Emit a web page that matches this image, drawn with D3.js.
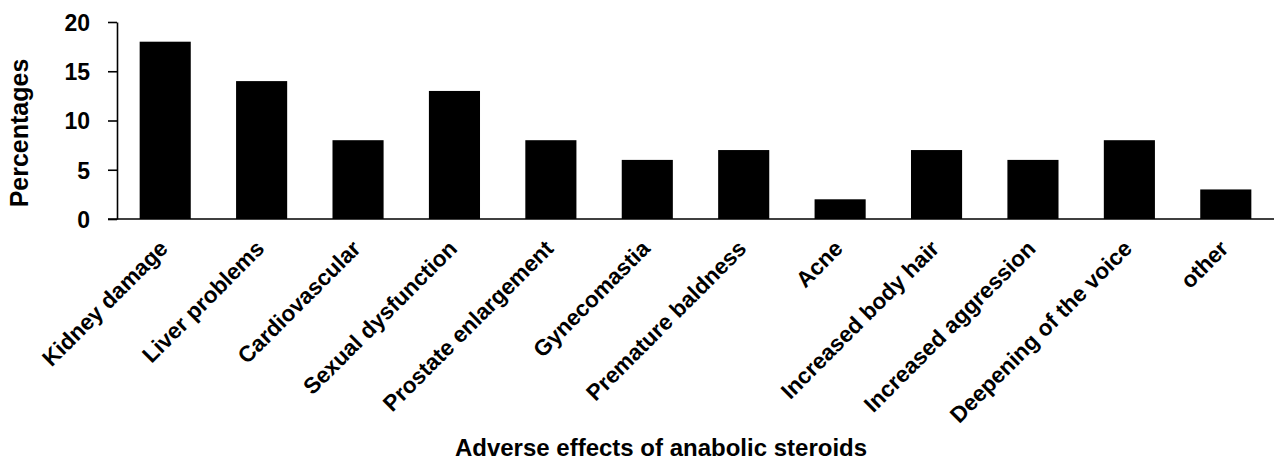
<!DOCTYPE html>
<html>
<head>
<meta charset="utf-8">
<script src="https://cdn.jsdelivr.net/npm/d3@7"></script>
<style>
  html, body { margin: 0; padding: 0; background: #fff; }
  svg { display: block; }
  text { font-family: "Liberation Sans", Arial, Helvetica, sans-serif; font-weight: bold; fill: #000; }
</style>
</head>
<body>
<svg id="chart" width="1277" height="462"></svg>
<script>
const categories = ["Kidney damage", "Liver problems", "Cardiovascular", "Sexual dysfunction",
  "Prostate enlargement", "Gynecomastia", "Premature baldness", "Acne",
  "Increased body hair", "Increased aggression", "Deepening of the voice", "other"];
const percentages = [18, 14, 8, 13, 8, 6, 7, 2, 7, 6, 8, 3];
const yTicks = [0, 5, 10, 15, 20];
const xTitle = "Adverse effects of anabolic steroids";
const yTitle = "Percentages";

const svg = d3.select("#chart");
const plotLeft = 117, plotRight = 1274, plotTop = 22, plotBottom = 219;

const x = d3.scaleBand().domain(categories).range([plotLeft, plotRight])
  .paddingInner(0.47).paddingOuter(0.235);
const y = d3.scaleLinear().domain([0, 20]).range([plotBottom, plotTop]);

// bars
svg.append("g").selectAll("rect").data(categories).join("rect")
  .attr("x", d => x(d))
  .attr("y", (d, i) => y(percentages[i]))
  .attr("width", x.bandwidth())
  .attr("height", (d, i) => y(0) - y(percentages[i]))
  .attr("fill", "#000");

// y axis
const yAxis = svg.append("g").attr("transform", `translate(${plotLeft},0)`)
  .call(d3.axisLeft(y).tickValues(yTicks).tickSize(9).tickPadding(18).tickSizeOuter(0));
yAxis.selectAll("path, line").attr("stroke", "#000").attr("stroke-width", 1.6);
yAxis.selectAll("text").attr("font-size", 23).attr("dy", "0.36em")
  .style("font-family", "'Liberation Sans', Arial, sans-serif").style("font-weight", "bold");

// x axis
const xAxis = svg.append("g").attr("transform", `translate(0,${plotBottom})`)
  .call(d3.axisBottom(x).tickSize(0).tickSizeOuter(0));
xAxis.select(".domain").remove();
xAxis.selectAll("text")
  .attr("font-size", 22.5)
  .style("font-family", "'Liberation Sans', Arial, sans-serif").style("font-weight", "bold")
  .attr("text-anchor", "end")
  .attr("x", 0).attr("y", 0).attr("dy", 0)
  .attr("transform", "translate(4,31) rotate(-45)");
svg.append("line")
  .attr("x1", plotLeft - 9).attr("x2", plotRight)
  .attr("y1", y(0)).attr("y2", y(0))
  .attr("stroke", "#000").attr("stroke-width", 1.6);

// titles
svg.append("text").attr("x", 661).attr("y", 456).attr("text-anchor", "middle")
  .attr("font-size", 24).text(xTitle);
svg.append("text").attr("transform", "translate(28,133) rotate(-90)")
  .attr("text-anchor", "middle").attr("font-size", 25).text(yTitle);
</script>
</body>
</html>
